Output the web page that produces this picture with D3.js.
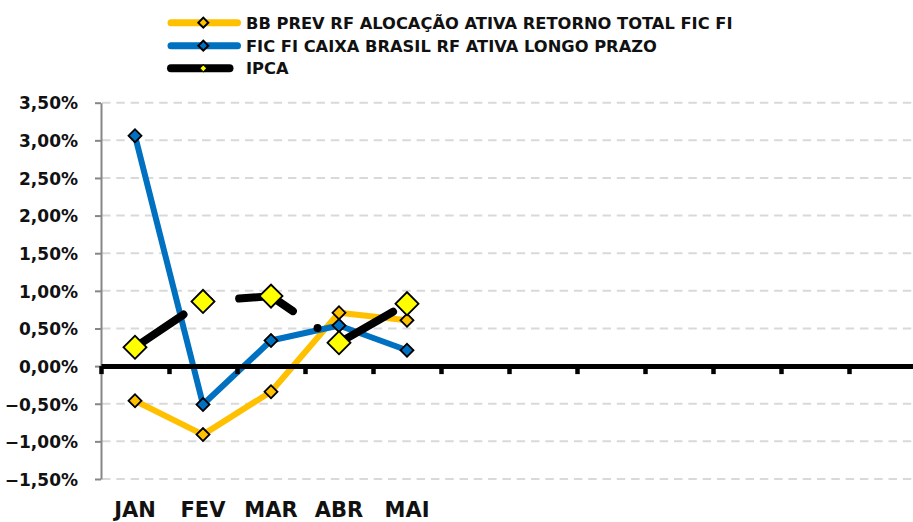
<!DOCTYPE html>
<html>
<head>
<meta charset="utf-8">
<script src="https://cdn.jsdelivr.net/npm/d3@7"></script>
<style>
  body { margin: 0; background: #fff; }
  text { font-family: "DejaVu Sans", sans-serif; font-weight: bold; fill: #111; }
</style>
</head>
<body>
<div id="chart"></div>
<script>
// data (monthly returns, %)
const tickLabels = ["JAN", "FEV", "MAR", "ABR", "MAI", "", "", "", "", "", "", ""];
const bbPrev = [-0.46, -0.91, -0.34, 0.71, 0.61];
const ficCaixa = [3.06, -0.51, 0.34, 0.54, 0.21];
const ipca = [0.25, 0.86, 0.93, 0.31, 0.83];
const yTicks = [-1.5, -1.0, -0.5, 0, 0.5, 1.0, 1.5, 2.0, 2.5, 3.0, 3.5];

const seriesNames = [
  "BB PREV RF ALOCAÇÃO ATIVA RETORNO TOTAL FIC FI",
  "FIC FI CAIXA BRASIL RF ATIVA LONGO PRAZO",
  "IPCA"
];

const width = 913, height = 522;
const plotLeft = 101, plotRight = 917, plotTop = 102.7, plotBottom = 479;

const svg = d3.select("#chart")
  .append("svg")
  .attr("width", width)
  .attr("height", height);

const x = d3.scaleBand()
  .domain(d3.range(tickLabels.length))
  .range([plotLeft, plotRight]);

const xEdge = d3.scaleLinear()
  .domain([0, tickLabels.length])
  .range([plotLeft, plotRight]);

const y = d3.scaleLinear()
  .domain([-1.5, 3.5])
  .range([plotBottom, plotTop]);

const ptBR = d3.formatLocale({ decimal: ",", thousands: ".", grouping: [3], currency: ["R$", ""] });
const fmt = v => ptBR.format(".2f")(v) + "%";

const cx = i => x(i) + x.bandwidth() / 2;

// dashed gridlines
svg.append("g")
  .selectAll("line")
  .data(yTicks)
  .enter()
  .append("line")
  .attr("x1", plotLeft + 1)
  .attr("x2", width)
  .attr("y1", d => y(d))
  .attr("y2", d => y(d))
  .attr("stroke", "#d9d9d9")
  .attr("stroke-width", 2)
  .attr("stroke-dasharray", "8.5 5.8");

// y axis
const yAxis = svg.append("g")
  .attr("transform", `translate(${plotLeft}, 0)`)
  .call(d3.axisLeft(y).tickValues(yTicks).tickFormat(fmt).tickSize(6).tickSizeOuter(0).tickPadding(17));
yAxis.select(".domain").attr("stroke", "#868686").attr("stroke-width", 2);
yAxis.selectAll(".tick line").attr("stroke", "#868686").attr("stroke-width", 2);
yAxis.selectAll(".tick text")
  .attr("font-family", "DejaVu Sans")
  .attr("font-weight", "bold")
  .attr("font-size", 17)
  .attr("fill", "#111")
  .attr("dy", "0.37em");

// series
const line = d3.line()
  .x((d, i) => cx(i))
  .y(d => y(d));

const diamond = size => d3.symbol().type(d3.symbolSquare).size(size);

function drawSeries(values, color, lineWidth, markerFill, markerSize, dash) {
  const path = svg.append("path")
    .datum(values)
    .attr("d", line)
    .attr("fill", "none")
    .attr("stroke", color)
    .attr("stroke-width", lineWidth)
    .attr("stroke-linejoin", "round")
    .attr("stroke-linecap", "round");
  if (dash) path.attr("stroke-dasharray", dash);

  svg.append("g")
    .selectAll("path")
    .data(values)
    .enter()
    .append("path")
    .attr("d", diamond(markerSize))
    .attr("transform", (d, i) => `translate(${cx(i)}, ${y(d)}) rotate(45)`)
    .attr("fill", markerFill)
    .attr("stroke", "#000")
    .attr("stroke-width", 1.8);
}

// long dash - dot pattern of the IPCA line
const ipcaDash = "58.5 29.9 0 29.9";

drawSeries(bbPrev, "#ffc000", 6, "#ffc000", 84, null);
drawSeries(ficCaixa, "#0070c0", 6, "#0070c0", 84, null);
drawSeries(ipca, "#000", 8, "#ffff00", 265, ipcaDash);

// x axis at zero, ticks between categories
const xAxis = svg.append("g")
  .attr("transform", `translate(0, ${y(0)})`)
  .call(d3.axisBottom(xEdge).tickValues(d3.range(tickLabels.length + 1)).tickFormat("").tickSize(8).tickSizeOuter(0));
xAxis.select(".domain").attr("stroke", "#000").attr("stroke-width", 5);
xAxis.selectAll(".tick line").attr("stroke", "#000").attr("stroke-width", 4.5);

// category labels at the bottom
svg.append("g")
  .selectAll("text")
  .data(tickLabels)
  .enter()
  .append("text")
  .attr("x", (d, i) => cx(i))
  .attr("y", 516.5)
  .attr("text-anchor", "middle")
  .attr("font-size", 21)
  .text(d => d);

// legend
const legendRows = [
  { name: seriesNames[0], color: "#ffc000", fill: "#ffc000", size: 50, w: 7, dash: null, y: 22.7 },
  { name: seriesNames[1], color: "#0070c0", fill: "#0070c0", size: 50, w: 7, dash: null, y: 45.7 },
  { name: seriesNames[2], color: "#000", fill: "#ffff00", size: 26, w: 8, dash: ipcaDash, y: 68.3 }
];

const legendItem = svg.append("g")
  .selectAll("g")
  .data(legendRows)
  .enter()
  .append("g")
  .attr("transform", d => `translate(0, ${d.y})`);

legendItem.append("line")
  .attr("x1", 171)
  .attr("x2", 237.5)
  .attr("stroke", d => d.color)
  .attr("stroke-width", d => d.w)
  .attr("stroke-linecap", "round")
  .attr("stroke-dasharray", d => d.dash);

legendItem.append("path")
  .attr("d", d => diamond(d.size)())
  .attr("transform", "translate(203.3, 0) rotate(45)")
  .attr("fill", d => d.fill)
  .attr("stroke", "#000")
  .attr("stroke-width", d => d.dash ? 1 : 2);

legendItem.append("text")
  .attr("x", 246)
  .attr("y", 5.9)
  .attr("font-size", 16.3)
  .text(d => d.name);
</script>
</body>
</html>
